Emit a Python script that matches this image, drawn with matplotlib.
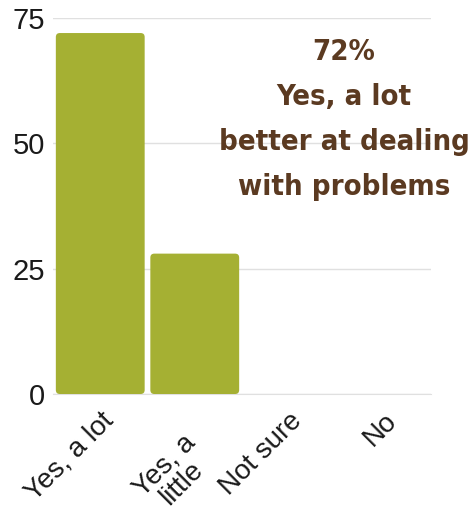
#!/usr/bin/env python3

import matplotlib
matplotlib.use("Agg")
import matplotlib.pyplot as plt
from matplotlib.patches import FancyBboxPatch
from matplotlib.transforms import ScaledTranslation

categories = ["Yes, a lot", "Yes, a\nlittle", "Not sure", "No"]
values = [72, 28, 0, 0]
y_ticks = [0, 25, 50, 75]
headline = ["72%", "Yes, a lot", "better at dealing", "with problems"]

BAR_COLOR = "#a5b033"
TEXT_BROWN = "#5b3a21"


def round_bars(ax, bars, radius_px=4):
    # replace plain bars with rounded ones, same geometry
    fig = ax.figure
    fig.canvas.draw()
    x_per_px = 1.0 / (ax.transData.transform((1, 0))[0] - ax.transData.transform((0, 0))[0])
    y_per_px = 1.0 / (ax.transData.transform((0, 1))[1] - ax.transData.transform((0, 0))[1])
    for bar in bars:
        h = bar.get_height()
        if h <= 0:
            continue
        x, y, w = bar.get_x(), bar.get_y(), bar.get_width()
        patch = FancyBboxPatch(
            (x, y), w, h,
            boxstyle=f"round,pad=0,rounding_size={radius_px * x_per_px}",
            mutation_aspect=y_per_px / x_per_px,
            facecolor=bar.get_facecolor(), edgecolor="none", zorder=3,
        )
        ax.add_patch(patch)
        bar.set_visible(False)


def main():
    plt.rcParams["font.family"] = ["Liberation Sans", "DejaVu Sans"]
    fig = plt.figure(figsize=(4.76, 5.21), dpi=100)
    ax = fig.add_axes([53 / 476, 1 - 394 / 521, 378 / 476, 376 / 521])

    xs = range(len(categories))
    bars = ax.bar(xs, values, width=0.94, color=BAR_COLOR, zorder=3)
    ax.set_xlim(-0.5, len(categories) - 0.5)
    ax.set_ylim(0, 75)

    ax.set_yticks(y_ticks)
    ax.set_yticklabels([str(t) for t in y_ticks], fontsize=21, color="#1a1a1a")
    ax.set_xticks(list(xs))
    labels = ax.set_xticklabels(categories, fontsize=20, color="#1a1a1a",
                                rotation=45, ha="right", va="top",
                                rotation_mode="anchor", multialignment="center")
    ax.tick_params(length=0, pad=6)
    ax.tick_params(axis="x", pad=10)

    # two-line label sits lower and further left, like the original
    for lab in labels:
        if "\n" in lab.get_text():
            lab.set_linespacing(0.95)
            lab.set_transform(lab.get_transform()
                              + ScaledTranslation(-0.13, -0.22, fig.dpi_scale_trans))

    ax.grid(axis="y", color="#e0e0e0", linewidth=1, zorder=0)
    for side in ["top", "right", "left"]:
        ax.spines[side].set_visible(False)
    ax.spines["bottom"].set_color("#e0e0e0")

    round_bars(ax, bars)

    # headline, one line at a time to keep the tall line spacing
    for i, line in enumerate(headline):
        fig.text(344 / 476, 1 - (60 + 45 * i) / 521, line, ha="center", va="baseline",
                 fontsize=21, fontweight="bold", color=TEXT_BROWN,
                 family="DejaVu Sans", fontstretch="condensed")

    fig.savefig("out.png", dpi=100)


if __name__ == "__main__":
    main()
